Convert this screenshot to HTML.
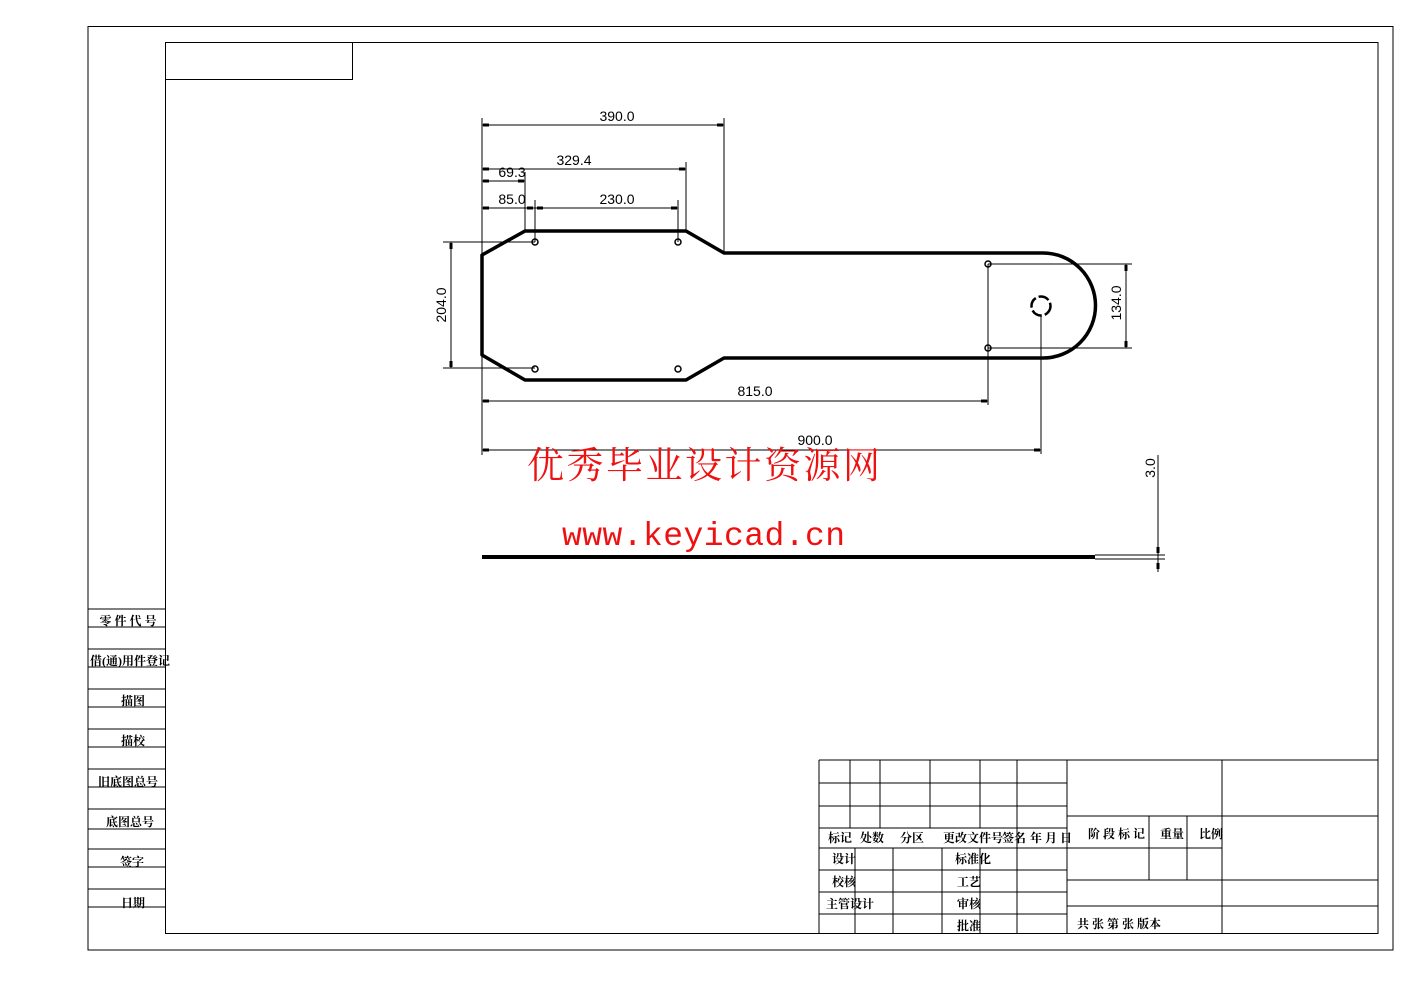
<!DOCTYPE html>
<html><head><meta charset="utf-8"><style>
html,body{margin:0;padding:0;background:#fff;}
svg{display:block;}
.t{font-family:"Liberation Sans",sans-serif;font-size:14px;fill:#000;}
.c{font-family:"Liberation Serif","Noto Serif CJK SC",serif;font-size:12px;font-weight:bold;fill:#000;}
</style></head><body>
<svg width="1403" height="992" viewBox="0 0 1403 992" xmlns="http://www.w3.org/2000/svg">
<g fill="none" stroke="#000" stroke-width="1">
<rect x="88" y="26.5" width="1305" height="923.5"/>
<rect x="165.5" y="42.5" width="1212.5" height="891"/>
<rect x="165.5" y="42.5" width="187" height="37"/>
<!-- left column -->
<path d="M88 609H165M88 627H165M88 649H165M88 667H165M88 689H165M88 707H165M88 729H165M88 747H165M88 769H165M88 787H165M88 809H165M88 829H165M88 849H165M88 867H165M88 889H165M88 907H165"/>
</g>
<g class="c" text-anchor="middle">
<text x="128" y="625">零 件 代 号</text>
<text x="130" y="665">借(通)用件登记</text>
<text x="133" y="705">描图</text>
<text x="133" y="745">描校</text>
<text x="128" y="786">旧底图总号</text>
<text x="130" y="826">底图总号</text>
<text x="132" y="866">签字</text>
<text x="133" y="907">日期</text>
</g>
<!-- part -->
<g fill="none" stroke="#000">
<path d="M482 255L525 231H686L724 253H1043A52.5 52.5 0 0 1 1043 358H724L686 380H525L482 355Z" stroke-width="3.5" stroke-linejoin="round"/>
<circle cx="1041" cy="306" r="9.5" stroke-width="2.5" stroke-dasharray="11 3"/>
<g stroke-width="1.5">
<circle cx="535" cy="242" r="3"/><circle cx="678" cy="242" r="3"/>
<circle cx="535" cy="369" r="3"/><circle cx="678" cy="369" r="3"/>
<circle cx="988" cy="264" r="3"/><circle cx="988" cy="348" r="3"/>
</g>
<g stroke-width="1">
<!-- extension lines -->
<path d="M482 118V455M724 118V253M686 162V231M525 172V231M535 200V242M678 200V242"/>
<path d="M443 242H535M443 368H535M451 242V368"/>
<path d="M988 264H1132M988 348H1132M1126 264V348"/>
<path d="M988 264V405M1041 316V454"/>
<!-- dim lines -->
<path d="M482 125H724M482 169H686M482 181H525M482 208H535M535 208H678M482 401H988M482 450H1041"/>
<path d="M1158 455V572M1095 555H1165M1095 559H1165"/>
</g>
<path d="M482 557H1095" stroke-width="4"/>
</g>
<g fill="#000">
<rect x="483" y="123.5" width="6" height="3"/><rect x="717" y="123.5" width="6" height="3"/>
<rect x="483" y="167.5" width="6" height="3"/><rect x="679" y="167.5" width="6" height="3"/>
<rect x="483" y="179.5" width="6" height="3"/><rect x="518" y="179.5" width="6" height="3"/>
<rect x="483" y="206.5" width="6" height="3"/><rect x="527" y="206.5" width="6" height="3"/>
<rect x="537" y="206.5" width="6" height="3"/><rect x="671" y="206.5" width="6" height="3"/>
<rect x="483" y="399.5" width="6" height="3"/><rect x="981" y="399.5" width="6" height="3"/>
<rect x="483" y="448.5" width="6" height="3"/><rect x="1034" y="448.5" width="6" height="3"/>
<rect x="449.5" y="243" width="3" height="6"/><rect x="449.5" y="361" width="3" height="6"/>
<rect x="1124.5" y="265" width="3" height="6"/><rect x="1124.5" y="341" width="3" height="6"/>
<rect x="1156.5" y="547" width="3" height="6"/><rect x="1156.5" y="563" width="3" height="6"/>
</g>
<g class="t" text-anchor="middle">
<text x="617" y="121">390.0</text>
<text x="574" y="165">329.4</text>
<text x="512" y="177">69.3</text>
<text x="512" y="204">85.0</text>
<text x="617" y="204">230.0</text>
<text x="755" y="396">815.0</text>
<text x="815" y="445">900.0</text>
<text transform="translate(446 305) rotate(-90)">204.0</text>
<text transform="translate(1121 303) rotate(-90)">134.0</text>
<text transform="translate(1155 468) rotate(-90)">3.0</text>
</g>
<text x="527" y="478" font-family="'Noto Serif CJK SC',serif" font-size="37" fill="#ee1111" textLength="353">优秀毕业设计资源网</text>
<text x="562" y="545" font-family="'Liberation Mono',monospace" font-size="33" fill="#ee1111" textLength="283">www.keyicad.cn</text>
<!-- title block -->
<g fill="none" stroke="#000" stroke-width="1">
<path d="M819 760H1378M819 783H1067M819 806H1067M819 828H1067M819 848H1067M819 870H1067M819 892H1067M819 914H1067"/>
<path d="M819 760V934M850 760V828M880 760V828M930 760V828M980 760V828M1017 760V934M1067 760V934"/>
<path d="M855 848V934M893 848V934M942 848V934M980 848V934"/>
<path d="M1067 816H1378M1067 848H1222M1067 880H1378M1067 906H1378M1222 760V934M1149 816V880M1187 816V880"/>
</g>
<g class="c">
<text x="828" y="842">标记</text>
<text x="860" y="842">处数</text>
<text x="900" y="842">分区</text>
<text x="943" y="842">更改文件号</text>
<text x="1002" y="842">签名</text>
<text x="1030" y="842">年 月 日</text>
<text x="1088" y="838">阶 段 标 记</text>
<text x="1160" y="838">重量</text>
<text x="1199" y="838">比例</text>
<text x="832" y="863">设计</text>
<text x="832" y="886">校核</text>
<text x="826" y="908">主管设计</text>
<text x="955" y="863">标准化</text>
<text x="957" y="886">工艺</text>
<text x="957" y="908">审核</text>
<text x="957" y="930">批准</text>
<text x="1077" y="928">共 张 第 张 版本</text>
</g>
</svg>
</body></html>
